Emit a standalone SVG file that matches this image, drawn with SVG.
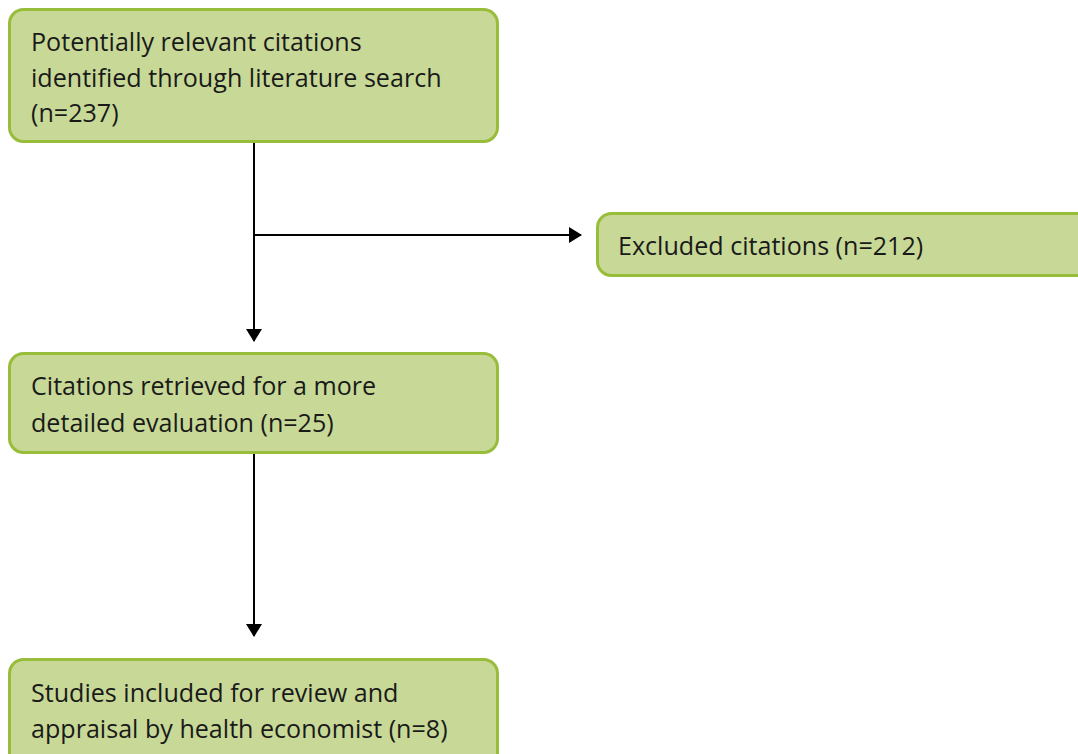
<svg xmlns="http://www.w3.org/2000/svg" width="1078" height="754" viewBox="0 0 1078 754">
<style>
.box{fill:#c8d997;stroke:#98bd3b;stroke-width:3}
.t{font-family:"Open Sans","Noto Sans",sans-serif;font-size:25.1px;fill:#1a1a1a}
.c{stroke:#000;stroke-width:2;fill:none}
</style>
<defs>
<marker id="ah" viewBox="0 0 13 16" refX="12" refY="8" markerWidth="13" markerHeight="16" markerUnits="userSpaceOnUse" orient="auto">
<path d="M0,0 L13,8 L0,16 z" fill="#000"/>
</marker>
</defs>
<rect width="1078" height="754" fill="#fff"/>
<g id="connectors">
<line class="c" x1="254" y1="142" x2="254" y2="341" marker-end="url(#ah)"/>
<line class="c" x1="254" y1="235" x2="581" y2="235" marker-end="url(#ah)"/>
<line class="c" x1="254" y1="453" x2="254" y2="636" marker-end="url(#ah)"/>
</g>
<g id="n1">
<rect class="box" x="9.5" y="9.5" width="488" height="132" rx="14"/>
<text class="t" x="31" y="51">Potentially relevant citations</text>
<text class="t" x="31" y="87">identified through literature search</text>
<text class="t" x="31" y="122">(n=237)</text>
</g>
<g id="n2">
<rect class="box" x="597.5" y="213.5" width="500" height="62" rx="14"/>
<text class="t" x="618" y="255">Excluded citations (n=212)</text>
</g>
<g id="n3">
<rect class="box" x="9.5" y="353.5" width="488" height="99" rx="14"/>
<text class="t" x="31" y="395">Citations retrieved for a more</text>
<text class="t" x="31" y="432">detailed evaluation (n=25)</text>
</g>
<g id="n4">
<rect class="box" x="9.5" y="659.5" width="488" height="120" rx="14"/>
<text class="t" x="31" y="702">Studies included for review and</text>
<text class="t" x="31" y="738">appraisal by health economist (n=8)</text>
</g>
</svg>
